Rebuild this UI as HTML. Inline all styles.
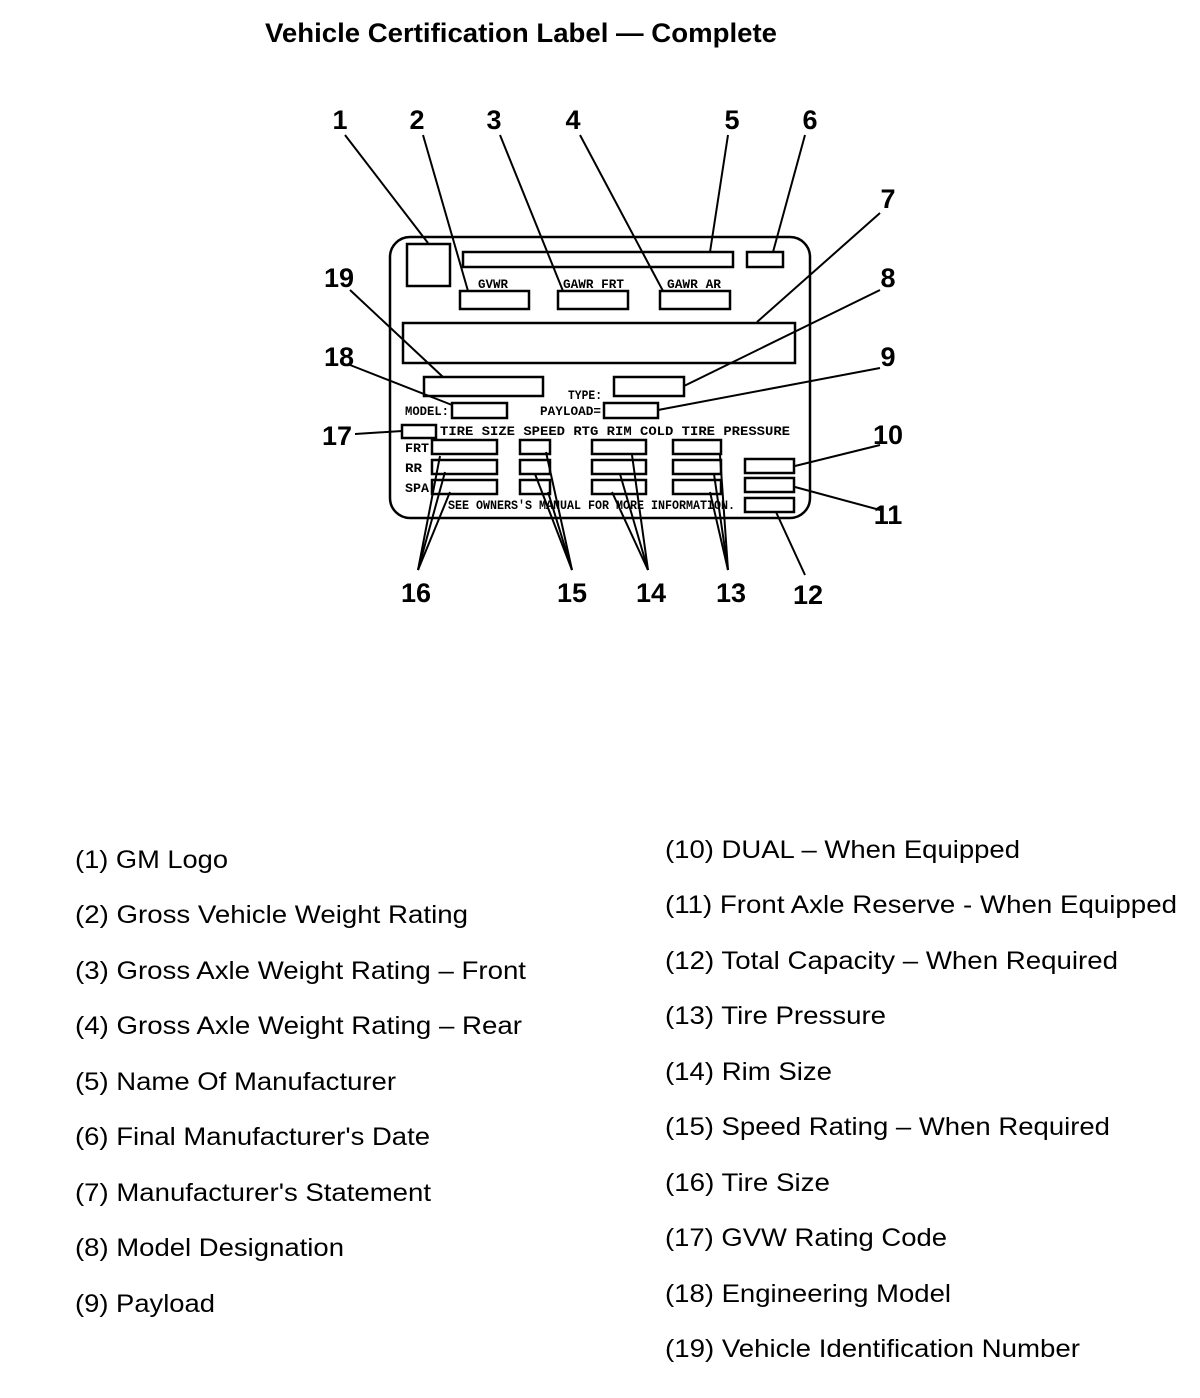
<!DOCTYPE html>
<html><head><meta charset="utf-8"><style>
body{margin:0;background:#fff;width:1200px;height:1398px;overflow:hidden}
svg{position:absolute;left:0;top:0}
.m{font-family:"Liberation Mono",monospace;font-size:13px;font-weight:bold;fill:#000}
.n{font-family:"Liberation Sans",sans-serif;font-size:27px;font-weight:bold;fill:#000}
.l{font-family:"Liberation Sans",sans-serif;font-size:25px;fill:#000}
</style></head><body>
<svg width="1200" height="1398" viewBox="0 0 1200 1398">
<text x="265" y="42" textLength="512" lengthAdjust="spacingAndGlyphs" font-family="Liberation Sans,sans-serif" font-weight="bold" font-size="27">Vehicle Certification Label — Complete</text>
<g fill="none" stroke="#000" stroke-width="2.5">
<rect x="390" y="237" width="420" height="281" rx="20"/>
<rect x="407" y="244" width="43" height="42"/>
<rect x="463" y="252" width="270" height="15"/>
<rect x="747" y="252" width="36" height="15"/>
<rect x="460" y="291" width="69" height="18"/>
<rect x="558" y="291" width="70" height="18"/>
<rect x="660" y="291" width="70" height="18"/>
<rect x="403" y="323" width="392" height="40"/>
<rect x="424" y="377" width="119" height="19"/>
<rect x="614" y="377" width="70" height="19"/>
<rect x="452" y="403" width="55" height="15"/>
<rect x="604" y="403" width="54" height="15"/>
<rect x="402" y="425" width="34" height="13"/>
<rect x="432" y="440" width="65" height="14"/><rect x="432" y="460" width="65" height="14"/><rect x="432" y="480" width="65" height="14"/>
<rect x="520" y="440" width="30" height="14"/><rect x="520" y="460" width="30" height="14"/><rect x="520" y="480" width="30" height="14"/>
<rect x="592" y="440" width="54" height="14"/><rect x="592" y="460" width="54" height="14"/><rect x="592" y="480" width="54" height="14"/>
<rect x="673" y="440" width="48" height="14"/><rect x="673" y="460" width="48" height="14"/><rect x="673" y="480" width="48" height="14"/>
<rect x="745" y="459" width="49" height="14"/><rect x="745" y="478" width="49" height="14"/><rect x="745" y="498" width="49" height="14"/>
</g>
<g class="m">
<text x="478" y="288" textLength="30" lengthAdjust="spacingAndGlyphs">GVWR</text>
<text x="563" y="288" textLength="61" lengthAdjust="spacingAndGlyphs">GAWR FRT</text>
<text x="667" y="288" textLength="54" lengthAdjust="spacingAndGlyphs">GAWR AR</text>
<text x="568" y="399" textLength="34" lengthAdjust="spacingAndGlyphs">TYPE:</text>
<text x="405" y="415" textLength="44" lengthAdjust="spacingAndGlyphs">MODEL:</text>
<text x="540" y="415" textLength="61" lengthAdjust="spacingAndGlyphs">PAYLOAD=</text>
<text x="440" y="435" textLength="350" lengthAdjust="spacingAndGlyphs">TIRE SIZE SPEED RTG  RIM  COLD TIRE PRESSURE</text>
<text x="405" y="452" textLength="24" lengthAdjust="spacingAndGlyphs">FRT</text>
<text x="405" y="472" textLength="17" lengthAdjust="spacingAndGlyphs">RR</text>
<text x="405" y="492" textLength="24" lengthAdjust="spacingAndGlyphs">SPA</text>
<text x="448" y="509" textLength="287" lengthAdjust="spacingAndGlyphs">SEE OWNERS'S MANUAL FOR MORE INFORMATION.</text>
</g>
<g stroke="#000" stroke-width="2" fill="none">
<line x1="345" y1="135" x2="428" y2="243"/>
<line x1="423" y1="135" x2="468" y2="291"/>
<line x1="500" y1="135" x2="563" y2="291"/>
<line x1="580" y1="135" x2="663" y2="291"/>
<line x1="728" y1="135" x2="710" y2="252"/>
<line x1="805" y1="135" x2="773" y2="252"/>
<line x1="880" y1="213" x2="757" y2="322"/>
<line x1="880" y1="290" x2="684" y2="386"/>
<line x1="880" y1="368" x2="658" y2="410"/>
<line x1="880" y1="445" x2="795" y2="466"/>
<line x1="880" y1="510" x2="795" y2="487"/>
<line x1="805" y1="575" x2="776" y2="512"/>
<line x1="728" y1="570" x2="720" y2="455"/><line x1="728" y1="570" x2="714" y2="474"/><line x1="728" y1="570" x2="710" y2="492"/>
<line x1="648" y1="570" x2="632" y2="455"/><line x1="648" y1="570" x2="620" y2="474"/><line x1="648" y1="570" x2="612" y2="492"/>
<line x1="572" y1="570" x2="546" y2="452"/><line x1="572" y1="570" x2="535" y2="474"/><line x1="572" y1="570" x2="548" y2="492"/>
<line x1="418" y1="570" x2="440" y2="456"/><line x1="418" y1="570" x2="445" y2="472"/><line x1="418" y1="570" x2="450" y2="492"/>
<line x1="355" y1="434" x2="402" y2="431"/>
<line x1="350" y1="365" x2="452" y2="405"/>
<line x1="350" y1="290" x2="443" y2="377"/>
</g>
<g class="n" text-anchor="middle">
<text x="340" y="129">1</text><text x="417" y="129">2</text><text x="494" y="129">3</text><text x="573" y="129">4</text><text x="732" y="129">5</text><text x="810" y="129">6</text>
<text x="888" y="208">7</text><text x="888" y="287">8</text><text x="888" y="366">9</text><text x="888" y="444">10</text><text x="888" y="524">11</text>
<text x="808" y="604">12</text><text x="731" y="602">13</text><text x="651" y="602">14</text><text x="572" y="602">15</text><text x="416" y="602">16</text>
<text x="337" y="445">17</text><text x="339" y="366">18</text><text x="339" y="287">19</text>
</g>
<g class="l">
<text x="75" y="868" textLength="153" lengthAdjust="spacingAndGlyphs">(1) GM Logo</text>
<text x="75" y="923" textLength="393" lengthAdjust="spacingAndGlyphs">(2) Gross Vehicle Weight Rating</text>
<text x="75" y="979" textLength="451" lengthAdjust="spacingAndGlyphs">(3) Gross Axle Weight Rating – Front</text>
<text x="75" y="1034" textLength="447" lengthAdjust="spacingAndGlyphs">(4) Gross Axle Weight Rating – Rear</text>
<text x="75" y="1090" textLength="321" lengthAdjust="spacingAndGlyphs">(5) Name Of Manufacturer</text>
<text x="75" y="1145" textLength="355" lengthAdjust="spacingAndGlyphs">(6) Final Manufacturer's Date</text>
<text x="75" y="1201" textLength="356" lengthAdjust="spacingAndGlyphs">(7) Manufacturer's Statement</text>
<text x="75" y="1256" textLength="269" lengthAdjust="spacingAndGlyphs">(8) Model Designation</text>
<text x="75" y="1312" textLength="140" lengthAdjust="spacingAndGlyphs">(9) Payload</text>
<text x="665" y="858" textLength="355" lengthAdjust="spacingAndGlyphs">(10) DUAL – When Equipped</text>
<text x="665" y="913" textLength="512" lengthAdjust="spacingAndGlyphs">(11) Front Axle Reserve - When Equipped</text>
<text x="665" y="969" textLength="453" lengthAdjust="spacingAndGlyphs">(12) Total Capacity – When Required</text>
<text x="665" y="1024" textLength="221" lengthAdjust="spacingAndGlyphs">(13) Tire Pressure</text>
<text x="665" y="1080" textLength="167" lengthAdjust="spacingAndGlyphs">(14) Rim Size</text>
<text x="665" y="1135" textLength="445" lengthAdjust="spacingAndGlyphs">(15) Speed Rating – When Required</text>
<text x="665" y="1191" textLength="165" lengthAdjust="spacingAndGlyphs">(16) Tire Size</text>
<text x="665" y="1246" textLength="282" lengthAdjust="spacingAndGlyphs">(17) GVW Rating Code</text>
<text x="665" y="1302" textLength="286" lengthAdjust="spacingAndGlyphs">(18) Engineering Model</text>
<text x="665" y="1357" textLength="415" lengthAdjust="spacingAndGlyphs">(19) Vehicle Identification Number</text>
</g>
</svg>
</body></html>
